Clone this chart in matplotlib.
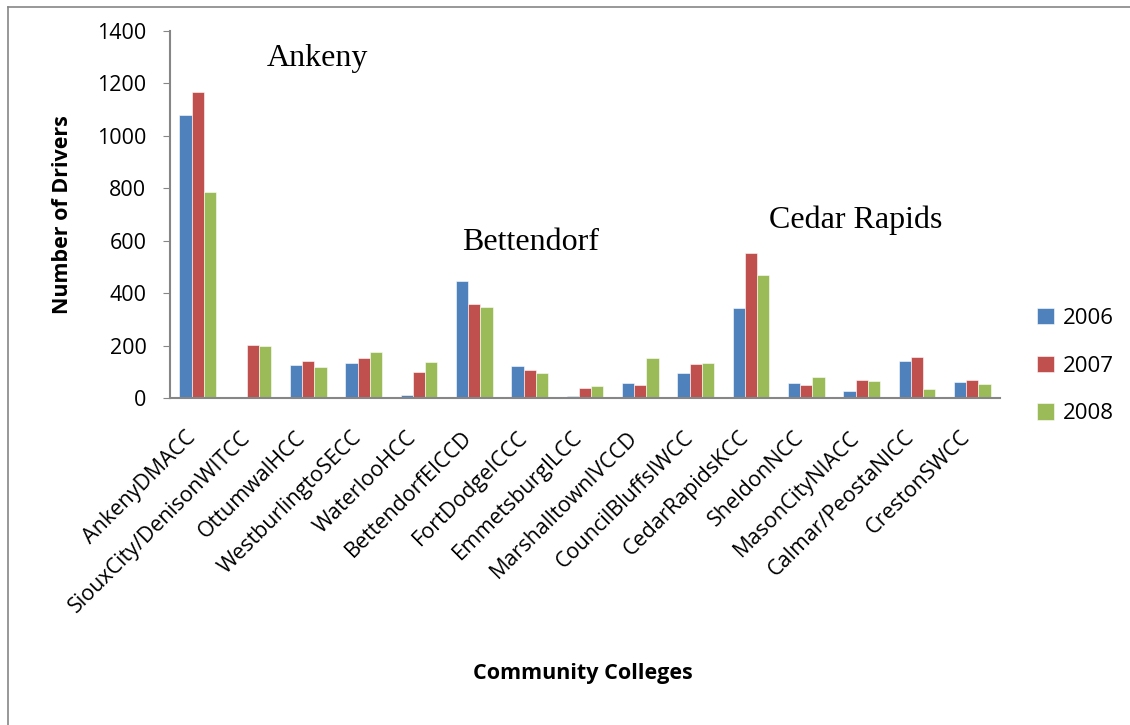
import matplotlib
matplotlib.use("Agg")
import matplotlib.pyplot as plt
import matplotlib.transforms as mtransforms
from matplotlib.lines import Line2D
import numpy as np

colleges = ['AnkenyDMACC', 'SiouxCity/DenisonWITCC', 'OttumwalHCC', 'WestburlingtoSECC',
            'WaterlooHCC', 'BettendorfEICCD', 'FortDodgeICCC', 'EmmetsburgILCC',
            'MarshalltownIVCCD', 'CouncilBluffsIWCC', 'CedarRapidsKCC', 'SheldonNCC',
            'MasonCityNIACC', 'Calmar/PeostaNICC', 'CrestonSWCC']
drivers_2006 = [1079, 0, 124, 135, 13, 446, 121, 8, 56, 95, 345, 57, 25, 141, 61]
drivers_2007 = [1167, 202, 142, 154, 98, 359, 108, 38, 48, 128, 552, 48, 67, 158, 69]
drivers_2008 = [787, 198, 119, 176, 137, 347, 94, 45, 154, 134, 468, 80, 64, 36, 52]
years = ['2006', '2007', '2008']
colors = ['#4F81BD', '#C0504D', '#9BBB59']

plt.rcParams['font.family'] = ['Open Sans', 'DejaVu Sans']

fig = plt.figure(figsize=(11.3, 7.25), dpi=100)
ax = fig.add_axes([170/1130, 1 - 398/725, 830/1130, 367/725])

x = np.arange(len(colleges))
w = 0.22
for k, (vals, lab, c) in enumerate(zip([drivers_2006, drivers_2007, drivers_2008], years, colors)):
    ax.bar(x + (k - 1) * w, vals, width=w, color=c, label=lab, edgecolor='white', linewidth=0.4)

ax.set_xlim(-0.5, len(colleges) - 0.5)
ax.set_ylim(0, 1400)
ax.set_yticks(range(0, 1401, 200))
ax.set_xticks(x)
ax.set_xticklabels(colleges, rotation=45, ha='right', rotation_mode='anchor', fontsize=15.5)
ax.tick_params(axis='x', length=0, pad=10)
ax.tick_params(axis='y', labelsize=15.5, length=5, color='#868686', direction='out', pad=12)
# shift the slanted labels along their own direction, like Excel does
shift = mtransforms.ScaledTranslation(-0.13, -0.15, fig.dpi_scale_trans)
for lbl in ax.get_xticklabels():
    lbl.set_transform(lbl.get_transform() + shift)
for s in ['top', 'right']:
    ax.spines[s].set_visible(False)
for s in ['left', 'bottom']:
    ax.spines[s].set_color('#868686')
    ax.spines[s].set_linewidth(1.5)

ax.set_ylabel('Number of Drivers', fontsize=15.5, fontweight='bold')
ax.yaxis.set_label_coords(-0.117, 0.5)
fig.text(583/1130, 1 - 673/725, 'Community Colleges', fontsize=15.5, fontweight='bold',
         ha='center', va='center')

serif = ['Liberation Serif', 'DejaVu Serif']
ax.text(2.17, 1265, 'Ankeny', family=serif, fontsize=23, ha='center', va='baseline')
ax.text(6.02, 565, 'Bettendorf', family=serif, fontsize=23, ha='center', va='baseline')
ax.text(11.9, 649, 'Cedar Rapids', family=serif, fontsize=23, ha='center', va='baseline')

fig.legend(loc='center left', bbox_to_anchor=(1017/1130, 1 - 366/725), frameon=False,
           fontsize=16, handlelength=0.75, handleheight=0.75, handletextpad=0.4,
           labelspacing=1.2)

# chart frame (only top and left edges visible in the crop)
top_y = 1 - 6.5/725
left_x = 7.5/1130
fig.add_artist(Line2D([left_x, 1], [top_y, top_y], transform=fig.transFigure,
                      color='#868686', linewidth=1.2))
fig.add_artist(Line2D([left_x, left_x], [0, top_y], transform=fig.transFigure,
                      color='#868686', linewidth=1.2))

fig.savefig('out.png', dpi=100)
